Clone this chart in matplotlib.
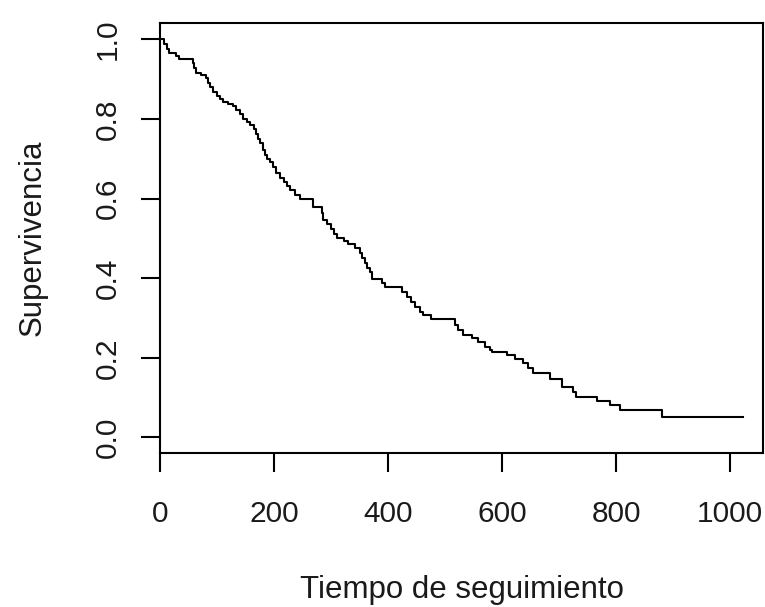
import matplotlib
matplotlib.use("Agg")
import matplotlib.pyplot as plt

# Kaplan-Meier estimate (event time, survival after the step)
times = [0, 7, 12, 15, 28, 33, 57, 60, 63, 72, 80, 84, 88, 93, 100, 106, 111, 120,
         128, 134, 140, 146, 152, 158, 164, 168, 172, 176, 181, 185, 188, 193, 198,
         204, 210, 218, 223, 228, 236, 245, 269, 284, 286, 293, 300, 305, 310, 322,
         330, 342, 350, 355, 360, 363, 368, 372, 389, 395, 424, 433, 441, 447, 456,
         462, 476, 518, 523, 532, 547, 558, 570, 579, 583, 608, 623, 637, 645, 655,
         684, 705, 725, 730, 766, 789, 807, 881, 1022]
surv = [1.000, 0.988, 0.976, 0.965, 0.958, 0.952, 0.940, 0.928, 0.916, 0.910, 0.902,
        0.890, 0.880, 0.868, 0.858, 0.850, 0.843, 0.838, 0.832, 0.822, 0.812, 0.801,
        0.792, 0.784, 0.776, 0.763, 0.751, 0.740, 0.722, 0.710, 0.700, 0.692, 0.680,
        0.665, 0.651, 0.641, 0.631, 0.621, 0.610, 0.598, 0.579, 0.565, 0.546, 0.535,
        0.523, 0.512, 0.500, 0.493, 0.487, 0.475, 0.463, 0.450, 0.437, 0.425, 0.416,
        0.398, 0.387, 0.377, 0.366, 0.353, 0.341, 0.328, 0.316, 0.307, 0.297, 0.282,
        0.270, 0.257, 0.249, 0.240, 0.228, 0.219, 0.215, 0.207, 0.198, 0.186, 0.174,
        0.161, 0.146, 0.126, 0.114, 0.102, 0.092, 0.081, 0.070, 0.050, 0.050]

xticks = [0, 200, 400, 600, 800, 1000]
yticks = [0.0, 0.2, 0.4, 0.6, 0.8, 1.0]
ytick_labels = ["0.0", "0.2", "0.4", "0.6", "0.8", "1.0"]
xlabel = "Tiempo de seguimiento"
ylabel = "Supervivencia"

plt.rcParams['font.family'] = ['Liberation Sans', 'DejaVu Sans']

W, H = 765, 607
fig = plt.figure(figsize=(W / 100, H / 100), dpi=100)
ax = fig.add_axes([160 / W, 1 - 453.3 / H, (763.3 - 160) / W, (453.3 - 22.7) / H])

ax.step(times, surv, where='post', color='black', lw=1.5)

ax.set_xlim(0, 1058)
ax.set_ylim(-0.04, 1.042)
ax.set_xticks(xticks)
ax.set_xticklabels([str(v) for v in xticks])
ax.set_yticks(yticks)
ax.set_yticklabels(ytick_labels, rotation=90, va='center')

for s in ax.spines.values():
    s.set_linewidth(1.5)
    s.set_color('black')

tfs = 21.5
lfs = 22.5
ax.tick_params(axis='both', direction='out', length=13.5, width=1.5, color='black',
               labelsize=tfs, labelcolor='#1a1a1a')
ax.tick_params(axis='x', pad=20)
ax.tick_params(axis='y', pad=14)

ax.set_xlabel(xlabel, fontsize=lfs, color='#1a1a1a', labelpad=34)
ax.set_ylabel(ylabel, fontsize=lfs, color='#1a1a1a', labelpad=33)

fig.savefig("out.png", dpi=100)
